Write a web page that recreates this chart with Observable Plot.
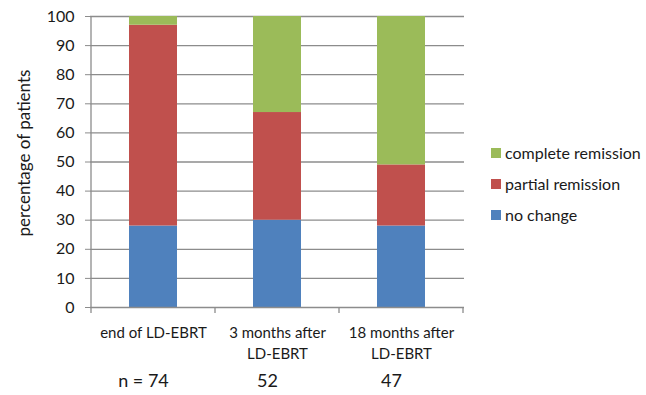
<!DOCTYPE html>
<html>
<head>
<meta charset="utf-8">
<script src="https://cdn.jsdelivr.net/npm/d3@7"></script>
<script src="https://cdn.jsdelivr.net/npm/@observablehq/plot@0.6"></script>
<style>
  html, body { margin: 0; padding: 0; background: #fff; }
  #wrap { position: relative; width: 646px; height: 395px; font-family: Lato, "Open Sans", sans-serif; }
  #legend { position: absolute; left: 491px; top: 137px; font-size: 16px; color: #1a1a1a; }
  #legend div { display: flex; align-items: center; height: 31px; }
  #legend span.sw { width: 10px; height: 10px; margin-right: 4px; display: inline-block; }
</style>
</head>
<body>
<div id="wrap"></div>
<script>
const categories = ["end of LD-EBRT", "3 months after\nLD-EBRT", "18 months after\nLD-EBRT"];
const nLabels = ["n = 74", "52", "47"];
const series = ["no change", "partial remission", "complete remission"];
const noChange = [28, 30, 28];
const partialRemission = [69, 37, 21];
const completeRemission = [3, 33, 51];
const colors = ["#4F81BD", "#C0504D", "#9BBB59"];
const yTicks = [0, 10, 20, 30, 40, 50, 60, 70, 80, 90, 100];
const yTitle = "percentage of patients";

const valuesBySeries = [noChange, partialRemission, completeRemission];
const rows = [];
series.forEach((s, si) => categories.forEach((c, ci) => rows.push({category: c, series: s, value: valuesBySeries[si][ci]})));

const plot = Plot.plot({
  width: 646,
  height: 395,
  marginLeft: 90,
  marginRight: 182,
  marginTop: 16,
  marginBottom: 88,
  style: {fontFamily: "Lato, 'Open Sans', sans-serif", fontSize: "15px", color: "#1a1a1a", background: "#fff"},
  x: {domain: categories, paddingInner: 0.61, paddingOuter: 0.305, label: null},
  y: {domain: [0, 100], ticks: yTicks, label: null},
  color: {domain: series, range: colors},
  marks: [
    Plot.ruleY(yTicks.slice(1), {stroke: "#8c8c8c", strokeWidth: 1.3}),
    Plot.barY(rows, {x: "category", y: "value", fill: "series", order: series}),
    Plot.ruleY([0], {stroke: "#8c8c8c", strokeWidth: 1.3}),
    Plot.axisY({ticks: yTicks, tickSize: 5, tickPadding: 11, stroke: "#8c8c8c", fontSize: 16, label: null}),
    Plot.axisX({tickSize: 0, tickPadding: 16, fontSize: 15, lineHeight: 1.4, label: null}),
    Plot.text([yTitle], {frameAnchor: "left", textAnchor: "middle", text: d => d, rotate: -90, dx: -66, dy: -9, fontSize: 17}),
    Plot.text(categories, {x: d => d, text: (d, i) => nLabels[i], frameAnchor: "bottom", dy: 79, dx: -10, fontSize: 18})
  ]
});

const svg = d3.select(plot);
const xs = plot.scale("x");
const ys = plot.scale("y");
const step = xs.step;
const y0 = ys.apply(0), y100 = ys.apply(100);
const left = xs.apply(categories[0]) + xs.bandwidth / 2 - step / 2;
const g = svg.append("g").attr("stroke", "#8c8c8c").attr("stroke-width", 1.3);
g.append("line").attr("x1", left).attr("x2", left).attr("y1", y100).attr("y2", y0 + 6);
categories.forEach(c => {
  const xr = xs.apply(c) + xs.bandwidth / 2 + step / 2;
  g.append("line").attr("x1", xr).attr("x2", xr).attr("y1", y0).attr("y2", y0 + 6);
});

document.getElementById("wrap").appendChild(plot);

const legend = d3.select("#wrap").append("div").attr("id", "legend");
[2, 1, 0].forEach(i => {
  const row = legend.append("div");
  row.append("span").attr("class", "sw").style("background", colors[i]);
  row.append("span").text(series[i]);
});
</script>
</body>
</html>
